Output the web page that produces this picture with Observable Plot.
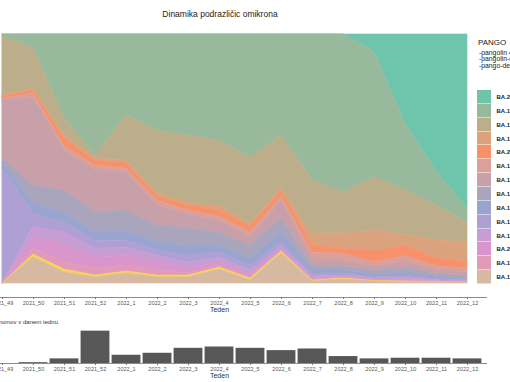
<!DOCTYPE html>
<html><head><meta charset="utf-8">
<script src="https://cdn.jsdelivr.net/npm/d3@7"></script>
<script src="https://cdn.jsdelivr.net/npm/@observablehq/plot@0.6"></script>
<style>
body{margin:0;background:#fff;font-family:"Liberation Sans",Arial,sans-serif;}
#wrap{position:relative;width:510px;height:382px;overflow:hidden;background:#fff;}
#wrap svg{position:absolute;left:0;overflow:visible;}
.t{position:absolute;white-space:nowrap;color:#333;}
</style></head><body><div id="wrap"></div>
<script>
// week labels
const weeks = ["2021_49","2021_50","2021_51","2021_52","2022_1","2022_2","2022_3","2022_4","2022_5","2022_6","2022_7","2022_8","2022_9","2022_10","2022_11","2022_12"];
// lineages, legend order (top of stack first)
const lineages = ["BA.2","BA.1.1","BA.1.17.2","BA.1.1.1","BA.2.9","BA.1.15","BA.1.1.14","BA.1.17","BA.1.1.18","BA.1.14","BA.1.1.2","BA.2.3","BA.1.15.1","BA.1","BA.1.18"];
const inLegend = [true,true,true,true,true,true,true,true,true,true,true,true,true,false,true];
const colors = ["#6ec5ab","#98b99c","#bcae8a","#dba37d","#f7916a","#dca09a","#c8a0a9","#a8a5bd","#99a4cf","#ae9fd4","#c79dd3","#d996cc","#e19bb8","#f3d35c","#d6b9a0"];
// weekly shares (%) per lineage
const s_BA2      = [0,0,0,0,0,0,0,0,0,0,0,0,7.0,36.0,55.0,70.0];
const s_BA1_1    = [0.8,5.6,33.7,48.6,32.5,38.6,40.6,42.6,49.4,40.6,58.6,63.5,50.4,26.7,13.7,5.5];
const s_BA1_17_2 = [23.7,16.1,6.8,1.2,18.1,24.9,26.9,26.1,26.5,21.3,21.3,16.5,21.3,18.1,14.1,8.0];
const s_BA1_1_1  = [0.4,0.8,1.2,0.8,1.2,1.6,1.2,2.0,1.2,0.8,4.8,6.0,8.0,4.4,7.2,8.0];
const s_BA2_9    = [0.8,1.2,3.2,2.0,2.0,1.6,2.0,2.4,2.4,2.4,2.8,2.0,4.8,4.0,3.2,2.4];
const s_BA1_15   = [0.8,1.6,1.6,2.0,1.6,2.0,1.6,1.6,1.6,1.6,2.4,2.8,1.6,2.4,1.6,1.6];
const s_BA1_1_14 = [23.3,35.3,16.1,16.9,15.3,8.0,5.6,4.8,3.6,7.2,2.8,2.4,1.6,2.4,1.6,1.6];
const s_BA1_17   = [2.0,7.2,8.8,8.0,8.0,6.8,6.8,5.2,5.2,5.6,2.0,1.6,1.6,2.0,1.2,1.2];
const s_BA1_1_18 = [2.0,4.0,4.0,3.2,4.0,3.2,4.0,2.8,2.8,4.0,1.2,1.2,1.2,1.2,0.8,0.4];
const s_BA1_14   = [46.2,5.2,4.0,3.2,2.8,2.0,2.8,2.0,2.0,1.6,1.2,0.8,0.4,0.8,0.4,0.4];
const s_BA1_1_2  = [0,4.0,4.8,3.6,3.2,2.8,2.4,2.0,1.6,1.2,0.8,0.4,0.4,0.8,0.4,0.2];
const s_BA2_3    = [0,4.8,7.2,4.4,4.0,3.2,2.0,1.2,0.8,0.4,0.4,0.4,0.4,0.4,0.2,0.2];
const s_BA1_15_1 = [0,2.4,2.8,2.8,2.4,2.0,0.8,0.8,0.8,0.4,0.4,0.4,0.2,0.3,0.1,0.1];
const s_BA1      = [0,1.2,1.2,0.8,0.8,0.8,0.8,0.8,0.8,0.8,0.4,0.4,0.2,0.4,0.2,0.2];
const s_BA1_18   = [0,10.4,4.4,2.4,4.0,2.4,2.4,5.6,1.2,12.0,0.8,1.6,0.8,0.4,0.4,0.2];
// number of genomes per week
const genomes = [0,25,140,980,250,310,460,500,460,390,440,210,140,160,160,140];

const shares = [s_BA2,s_BA1_1,s_BA1_17_2,s_BA1_1_1,s_BA2_9,s_BA1_15,s_BA1_1_14,s_BA1_17,s_BA1_1_18,s_BA1_14,s_BA1_1_2,s_BA2_3,s_BA1_15_1,s_BA1,s_BA1_18];

const rows = [];
lineages.forEach((name, k) => shares[k].forEach((v, i) => rows.push({i, lineage: name, share: v})));
const stackOrder = [...lineages].reverse();
const xDomain = [-0.0645, 15.645];
const idx = d3.range(weeks.length);
const wrap = document.getElementById("wrap");

const topChart = Plot.plot({
  width: 510, height: 320,
  marginLeft: 0, marginRight: 23, marginTop: 34, marginBottom: 23,
  style: {fontFamily: "Liberation Sans, Arial, sans-serif", background: "transparent"},
  x: {type: "linear", domain: xDomain, axis: null},
  y: {domain: [-0.056, 1], axis: null},
  color: {domain: lineages, range: colors},
  marks: [
    Plot.areaY(rows, Plot.stackY({x: "i", y: "share", z: "lineage", fill: "lineage", stroke: "lineage", strokeWidth: 0.6, order: stackOrder, offset: "normalize"})),
    Plot.ruleY([-0.056], {stroke: "#8a8a8a", strokeWidth: 1}),
    Plot.axisX({ticks: idx, tickFormat: i => weeks[i], tickSize: 2, tickPadding: 1.5, fontSize: 5.5, stroke: "#777", color: "#555", label: null}),
    Plot.text(["Teden"], {x: () => 7, y: () => -0.056, dy: 12, fontSize: 7, fill: "#333"})
  ]
});
topChart.style.top = "0px";
wrap.appendChild(topChart);

const bottomChart = Plot.plot({
  width: 510, height: 62,
  marginLeft: 0, marginRight: 23, marginTop: 9, marginBottom: 19,
  style: {fontFamily: "Liberation Sans, Arial, sans-serif", background: "transparent"},
  x: {type: "linear", domain: xDomain, axis: null},
  y: {domain: [0, 1030], axis: null},
  marks: [
    Plot.rectY(idx, {x1: i => i - 0.465, x2: i => i + 0.465, y1: 0, y2: i => genomes[i], fill: "#575757"}),
    Plot.ruleY([0], {stroke: "#8a8a8a", strokeWidth: 1}),
    Plot.axisX({ticks: idx, tickFormat: i => weeks[i], tickSize: 2, tickPadding: 1.5, fontSize: 5.5, stroke: "#777", color: "#555", label: null}),
    Plot.text(["Teden"], {x: () => 7, y: () => 0, dy: 12.5, fontSize: 7, fill: "#333"})
  ]
});
bottomChart.style.top = "320px";
wrap.appendChild(bottomChart);

function addText(txt, left, top, size, extra) {
  const d = document.createElement("div");
  d.className = "t";
  d.textContent = txt;
  d.style.left = left + "px";
  d.style.top = top + "px";
  d.style.fontSize = size + "px";
  d.style.lineHeight = "1";
  if (extra) Object.assign(d.style, extra);
  wrap.appendChild(d);
  return d;
}
// title
addText("Dinamika podrazličic omikrona", 160, 10, 8.5, {width: "120px", textAlign: "center", color: "#222"});
// bottom subtitle (right end at x=58)
addText("Število genomov v danem tednu", 0, 319, 6, {left: "auto", right: (510 - 58) + "px", color: "#333"});
// legend title
addText("PANGO", 478, 39, 8, {color: "#222"});
addText("-pangolin 4.0", 479, 49.5, 6.8, {color: "#222"});
addText("-pangolin-data 1.2", 479, 56, 6.8, {color: "#222"});
addText("-pango-designation 1.2", 479, 62.5, 6.8, {color: "#222"});
// legend keys
const legItems = lineages.map((n, k) => ({n, c: colors[k]})).filter((d, k) => inLegend[k]);
const keyTop = 90, keyH = 13.86;
legItems.forEach((d, k) => {
  const key = document.createElement("div");
  key.style.cssText = `position:absolute;left:477px;top:${keyTop + k * keyH}px;width:14px;height:${keyH}px;background:${d.c};box-shadow:inset 0 -0.5px 0 #fff;`;
  wrap.appendChild(key);
  addText(d.n, 496.5, keyTop + k * keyH + 4, 6, {fontWeight: "bold", color: "#222"});
});
</script></body></html>
